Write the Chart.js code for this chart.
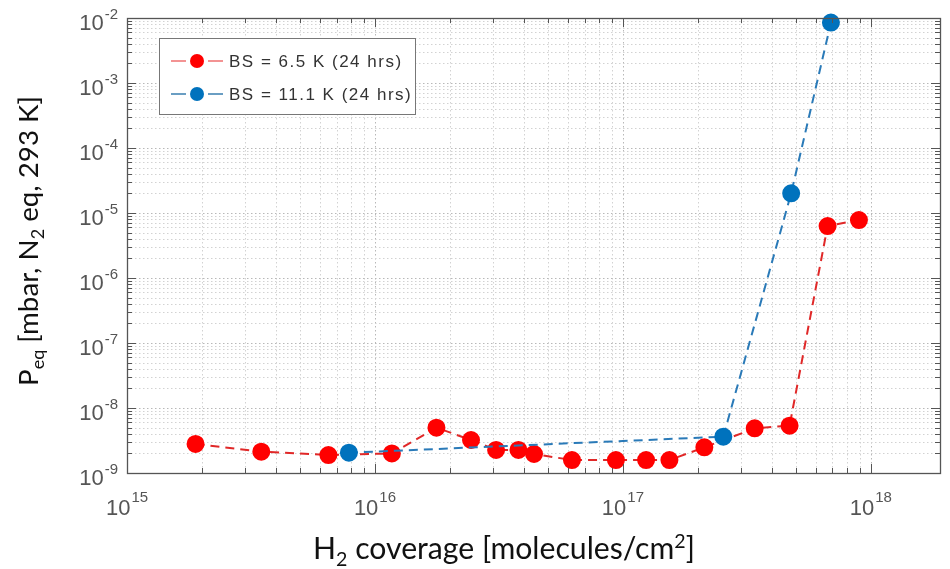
<!DOCTYPE html>
<html><head><meta charset="utf-8">
<script src="https://cdn.jsdelivr.net/npm/chart.js@4.4.1/dist/chart.umd.min.js"></script>
<style>html,body{margin:0;padding:0;background:#fff}#wrap{width:950px;height:569px;position:relative}</style>
</head><body><div id="wrap"><canvas id="c" width="950" height="569"></canvas></div>
<script>
// ---- data ----
const seriesNames = ['BS = 6.5 K (24 hrs)', 'BS = 11.1 K (24 hrs)'];
const redX = [1.89e15, 3.48e15, 6.49e15, 1.17e16, 1.77e16, 2.44e16, 3.08e16, 3.79e16, 4.38e16, 6.23e16, 9.37e16, 1.24e17, 1.54e17, 2.13e17, 3.40e17, 4.70e17, 6.69e17, 8.95e17];
const redY = [2.8e-9, 2.13e-9, 1.89e-9, 2.0e-9, 4.98e-9, 3.22e-9, 2.26e-9, 2.26e-9, 1.96e-9, 1.58e-9, 1.58e-9, 1.58e-9, 1.58e-9, 2.48e-9, 4.86e-9, 5.35e-9, 6.3e-6, 7.8e-6];
const blueX = [7.85e15, 2.54e17, 4.77e17, 6.9e17];
const blueY = [2.05e-9, 3.62e-9, 2.01e-5, 8.5e-3];
const xTickExps = [15, 16, 17, 18];
const yTickExps = [-9, -8, -7, -6, -5, -4, -3, -2];
const xRange = [1e15, 1.9e18];
const yRange = [1e-9, 1e-2];
const xTitleParts = [{t:'H'},{t:'2',s:'sub'},{t:' coverage [molecules/cm'},{t:'2',s:'sup'},{t:']'}];
const yTitleParts = [{t:'P'},{t:'eq',s:'sub'},{t:' [mbar, N'},{t:'2',s:'sub'},{t:' eq, 293 K]'}];

const RED = '#ff0000', BLUE = '#0072bd';
const toPts = (xs, ys) => xs.map((x, i) => ({x, y: ys[i]}));

function richWidth(ctx, parts, size, family) {
  let w = 0;
  for (const p of parts) { ctx.font = (p.s ? size * 0.65 : size) + 'px ' + family; w += ctx.measureText(p.t).width; }
  return w;
}
// draws rich text centred at cx, scaled to the given overall width
function drawRich(ctx, parts, cx, y, targetW, family) {
  const size = 30 * targetW / richWidth(ctx, parts, 30, family);
  let x = cx - targetW / 2;
  ctx.textAlign = 'left'; ctx.textBaseline = 'alphabetic';
  for (const p of parts) {
    ctx.font = (p.s ? size * 0.65 : size) + 'px ' + family;
    const dy = p.s === 'sub' ? size * 0.22 : p.s === 'sup' ? -size * 0.36 : 0;
    ctx.fillText(p.t, x, y + dy);
    x += ctx.measureText(p.t).width;
  }
}
function gridValues(exps, range) {
  const out = [];
  for (let e = exps[0]; e <= exps[exps.length - 1] + 1; e++) {
    for (let m = 1; m <= 9; m++) {
      const v = m * Math.pow(10, e);
      if (v >= range[0] * 0.999 && v <= range[1] * 1.001) out.push({v, major: m === 1});
    }
  }
  return out;
}

const decor = {
  id: 'decor',
  beforeDatasetsDraw(chart) {
    const {ctx, chartArea: a, scales: {x, y}} = chart;
    ctx.save();
    ctx.lineWidth = 1;
    ctx.setLineDash([1.5, 2.5]);
    for (const g of gridValues(xTickExps, xRange)) {
      const px = Math.round(x.getPixelForValue(g.v)) + 0.5;
      ctx.strokeStyle = g.major ? '#b8b8b8' : '#d2d2d2';
      ctx.beginPath(); ctx.moveTo(px, a.top); ctx.lineTo(px, a.bottom); ctx.stroke();
    }
    for (const g of gridValues(yTickExps, yRange)) {
      const py = Math.round(y.getPixelForValue(g.v)) + 0.5;
      ctx.strokeStyle = g.major ? '#b8b8b8' : '#d2d2d2';
      ctx.beginPath(); ctx.moveTo(a.left, py); ctx.lineTo(a.right, py); ctx.stroke();
    }
    ctx.restore();
  },
  afterDatasetsDraw(chart) {
    const {ctx, chartArea: a, scales: {x, y}} = chart;
    ctx.save();
    // ticks (inward)
    ctx.strokeStyle = '#555'; ctx.lineWidth = 1; ctx.setLineDash([]);
    for (const g of gridValues(xTickExps, xRange)) {
      const px = Math.round(x.getPixelForValue(g.v)) + 0.5, L = g.major ? 9 : 5;
      ctx.beginPath(); ctx.moveTo(px, a.bottom); ctx.lineTo(px, a.bottom - L);
      ctx.moveTo(px, a.top); ctx.lineTo(px, a.top + L); ctx.stroke();
    }
    for (const g of gridValues(yTickExps, yRange)) {
      const py = Math.round(y.getPixelForValue(g.v)) + 0.5, L = g.major ? 9 : 5;
      ctx.beginPath(); ctx.moveTo(a.left, py); ctx.lineTo(a.left + L, py);
      ctx.moveTo(a.right, py); ctx.lineTo(a.right - L, py); ctx.stroke();
    }
    // box
    ctx.lineWidth = 1.3; ctx.strokeStyle = '#555';
    ctx.strokeRect(Math.round(a.left) + 0.5, Math.round(a.top) + 0.5, Math.round(a.right - a.left), Math.round(a.bottom - a.top));
    // tick labels
    const fam = '"Liberation Sans", Arial, sans-serif';
    ctx.fillStyle = '#555'; ctx.textBaseline = 'alphabetic'; ctx.textAlign = 'left';
    for (const e of xTickExps) {
      const px = x.getPixelForValue(Math.pow(10, e));
      ctx.font = '22px ' + fam; const w1 = ctx.measureText('10').width;
      ctx.font = '15px ' + fam; const w2 = ctx.measureText(String(e)).width;
      const s = px - (w1 + w2 + 1) / 2;
      ctx.font = '22px ' + fam; ctx.fillText('10', s, a.bottom + 42);
      ctx.font = '15px ' + fam; ctx.fillText(String(e), s + w1 + 1, a.bottom + 29);
    }
    for (const e of yTickExps) {
      const py = y.getPixelForValue(Math.pow(10, e));
      const right = a.left - 9;
      ctx.font = '15px ' + fam; const w2 = ctx.measureText(String(e)).width;
      ctx.fillText(String(e), right - w2, py + 1);
      ctx.font = '22px ' + fam; const w1 = ctx.measureText('10').width;
      ctx.fillText('10', right - w2 - 1 - w1, py + 12);
    }
    // legend
    const lx = 159.5, ly = 38.5, lw = 256, lh = 76;
    ctx.fillStyle = '#fff'; ctx.fillRect(lx, ly, lw, lh);
    ctx.strokeStyle = '#777'; ctx.lineWidth = 1; ctx.strokeRect(lx, ly, lw, lh);
    const rows = [{c: RED, lc: '#f07070', y: 61}, {c: BLUE, lc: '#3a7fb0', y: 94}];
    rows.forEach((r, i) => {
      ctx.strokeStyle = r.lc; ctx.lineWidth = 1.5;
      ctx.beginPath(); ctx.moveTo(171, r.y); ctx.lineTo(186, r.y); ctx.moveTo(208, r.y); ctx.lineTo(223, r.y); ctx.stroke();
      ctx.fillStyle = r.c; ctx.beginPath(); ctx.arc(197, r.y, 7, 0, Math.PI * 2); ctx.fill();
      ctx.fillStyle = '#333'; ctx.font = '17px ' + fam; ctx.textBaseline = 'middle';
      ctx.letterSpacing = '1.5px';
      ctx.fillText(seriesNames[i], 229, r.y + 1);
      ctx.letterSpacing = '0px';
    });
    // axis titles
    ctx.textBaseline = 'alphabetic';
    ctx.fillStyle = '#111';
    const tfam = 'Lato, "Open Sans", sans-serif';
    drawRich(ctx, xTitleParts, 504, 559, 382, tfam);
    ctx.translate(38, 241); ctx.rotate(-Math.PI / 2);
    drawRich(ctx, yTitleParts, 0, 0, 290, tfam);
    ctx.restore();
  }
};

const mk = (label, pts, c, lc) => ({
  label, data: pts, borderColor: lc, backgroundColor: c, pointBackgroundColor: c, pointBorderColor: c,
  pointRadius: 8, pointHoverRadius: 8, borderWidth: 2, borderDash: [9, 6], showLine: true, tension: 0, clip: false
});

new Chart(document.getElementById('c'), {
  type: 'scatter',
  data: { datasets: [
    mk(seriesNames[1], toPts(blueX, blueY), BLUE, '#2a7ab8'),
    mk(seriesNames[0], toPts(redX, redY), RED, '#e02828')
  ]},
  options: {
    responsive: false, animation: false, devicePixelRatio: 1,
    layout: { padding: { left: 127, right: 3, top: 18, bottom: 96 } },
    plugins: { legend: { display: false }, tooltip: { enabled: false } },
    scales: {
      x: { type: 'logarithmic', min: xRange[0], max: xRange[1], display: false },
      y: { type: 'logarithmic', min: yRange[0], max: yRange[1], display: false }
    }
  },
  plugins: [decor]
});
</script></body></html>
